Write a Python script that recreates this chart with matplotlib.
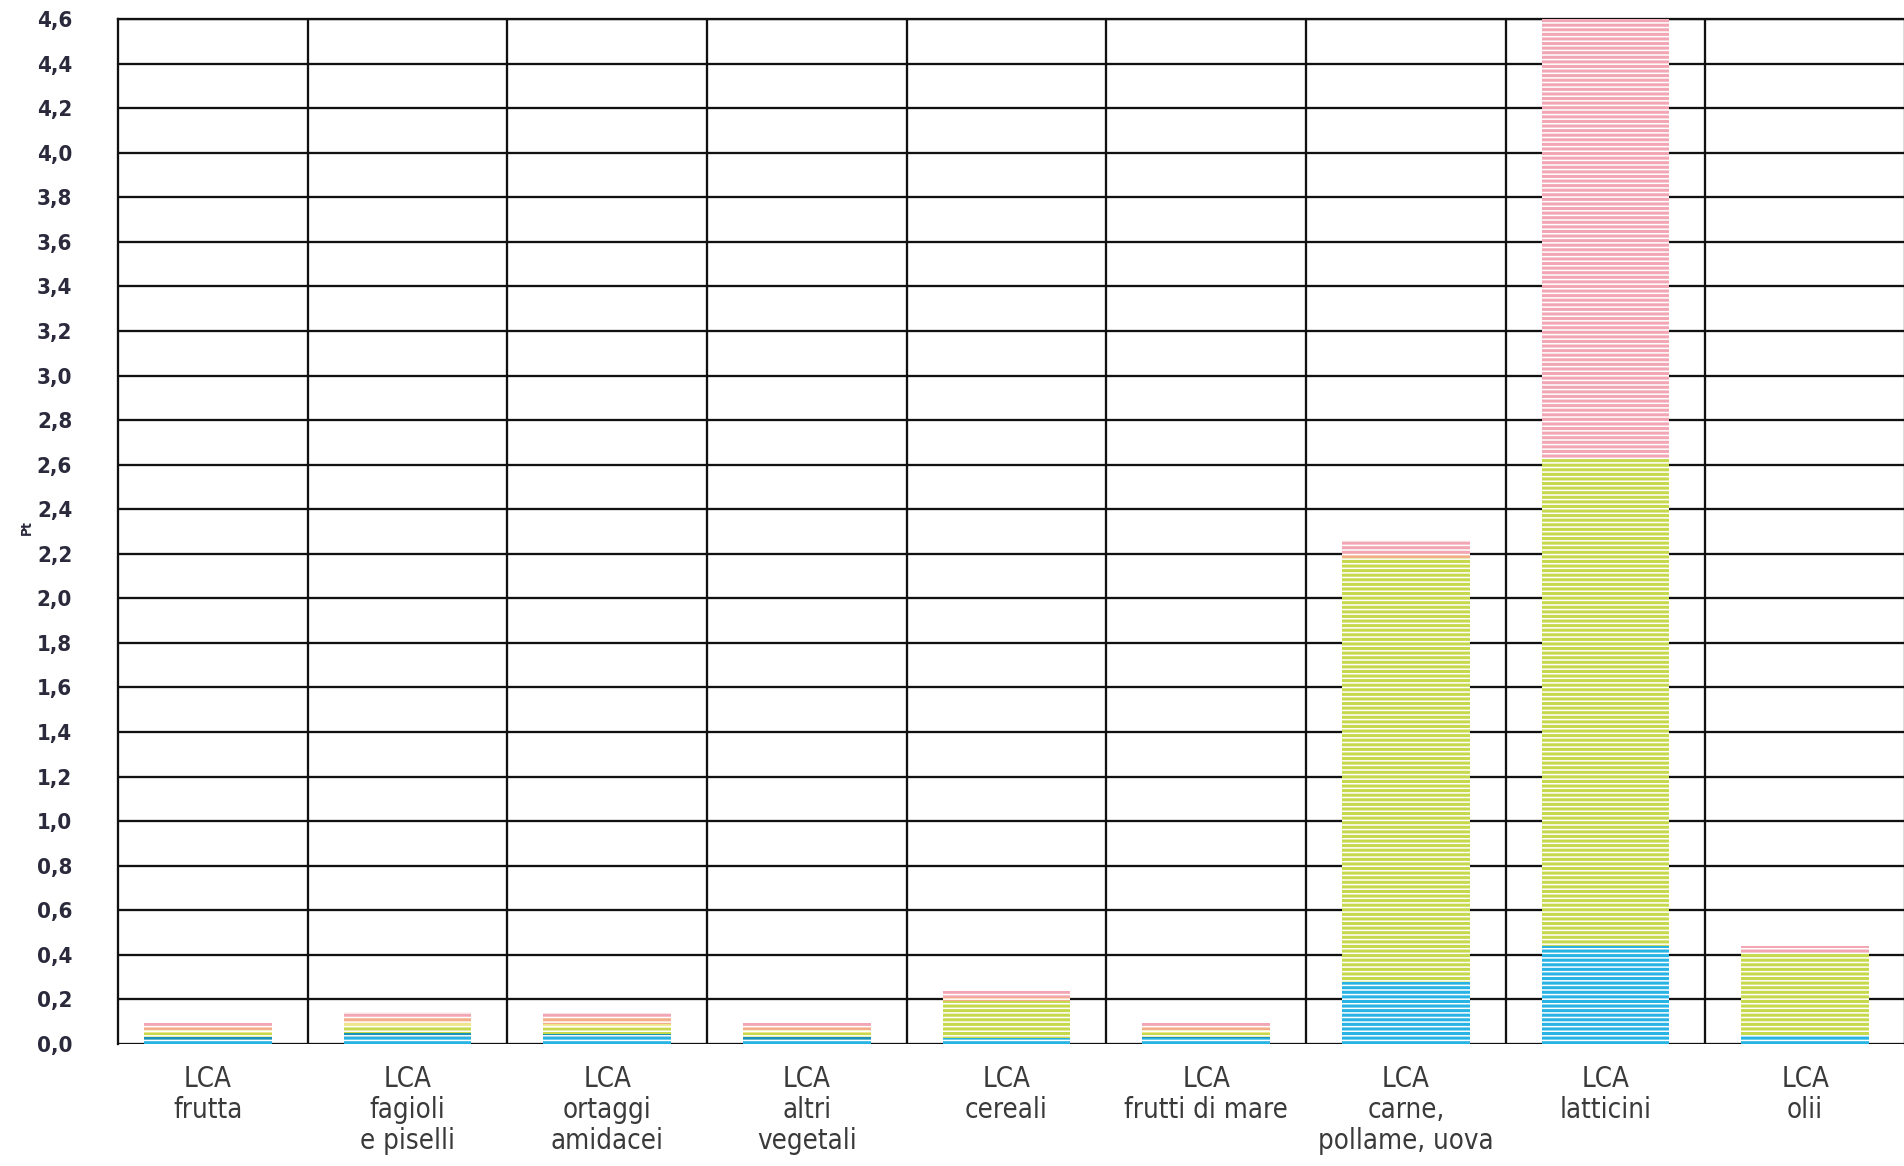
import matplotlib
matplotlib.use("Agg")
import matplotlib.pyplot as plt
import numpy as np

# Food groups (LCA results, single score in Pt)
categories = [
    "LCA\nfrutta",
    "LCA\nfagioli\ne piselli",
    "LCA\nortaggi\namidacei",
    "LCA\naltri\nvegetali",
    "LCA\ncereali",
    "LCA\nfrutti di mare",
    "LCA\ncarne,\npollame, uova",
    "LCA\nlatticini",
    "LCA\nolii",
]

# Stacked contributions per group, bottom to top
impact_1 = [0.020, 0.030, 0.030, 0.020, 0.025, 0.025, 0.280, 0.440, 0.040]
impact_2 = [0.010, 0.020, 0.015, 0.010, 0.000, 0.005, 0.000, 0.000, 0.000]
impact_3 = [0.020, 0.025, 0.025, 0.020, 0.170, 0.020, 1.900, 2.190, 0.370]
impact_4 = [0.015, 0.020, 0.020, 0.015, 0.000, 0.015, 0.000, 0.000, 0.000]
impact_5 = [0.015, 0.025, 0.025, 0.015, 0.015, 0.015, 0.020, 0.000, 0.000]
impact_6 = [0.015, 0.025, 0.025, 0.015, 0.030, 0.015, 0.060, 1.970, 0.030]

series = [impact_1, impact_2, impact_3, impact_4, impact_5, impact_6]
colors = ["#27b3e3", "#1b93b8", "#c6d94c", "#efe68c", "#f3ad88", "#f2a6b4"]

y_ticks = np.round(np.arange(0, 4.61, 0.2), 1)
y_ticklabels = [f"{v:.1f}".replace(".", ",") for v in y_ticks]

DPI = 110
plt.rcParams["hatch.linewidth"] = 2.0
plt.rcParams["font.family"] = ["DejaVu Sans"]
plt.rcParams["font.stretch"] = "condensed"

fig = plt.figure(figsize=(1905 / DPI, 1166 / DPI), dpi=DPI)
ax = fig.add_axes([118 / 1905, 1 - 1044 / 1166, 1 - 118 / 1905, (1044 - 19) / 1166])

x = np.arange(len(categories))
bottom = np.zeros(len(categories))
for vals, col in zip(series, colors):
    vals = np.array(vals)
    ax.bar(x, vals, width=0.64, bottom=bottom, facecolor="white",
           edgecolor=col, linewidth=0, hatch="----", zorder=3)
    bottom += vals

ax.set_xlim(-0.45, 8.5)
ax.set_ylim(0, 4.6)

# grid: horizontal at every tick, vertical between groups
ax.set_yticks(y_ticks)
ax.set_yticklabels(y_ticklabels, fontsize=14.5, fontweight="bold",
                   color="#2a2a3c", fontstretch="condensed")
ax.set_xticks(x)
ax.set_xticklabels(categories, fontsize=18, color="#3a3a3a", linespacing=1.12,
                   fontstretch="condensed")
ax.set_xticks(np.arange(0.5, 8.5, 1.0), minor=True)
ax.tick_params(axis="both", which="both", length=0)
ax.tick_params(axis="y", pad=30)
ax.tick_params(axis="x", pad=14)
ax.grid(axis="y", which="major", color="#111111", linewidth=1.5, zorder=1)
ax.grid(axis="x", which="minor", color="#111111", linewidth=1.5, zorder=1)
ax.grid(axis="x", which="major", visible=False)
ax.set_axisbelow(True)

for side in ["left", "top", "right"]:
    ax.spines[side].set_linewidth(1.5)
    ax.spines[side].set_color("#111111")
ax.spines["bottom"].set_visible(False)

fig.text(27 / 1905, 1 - 528 / 1166, "Pt", rotation=90, fontsize=9,
         fontweight="bold", color="#2a2a3c", ha="center", va="center",
         fontstretch="condensed")

fig.savefig("out.png", dpi=DPI, facecolor="white")
